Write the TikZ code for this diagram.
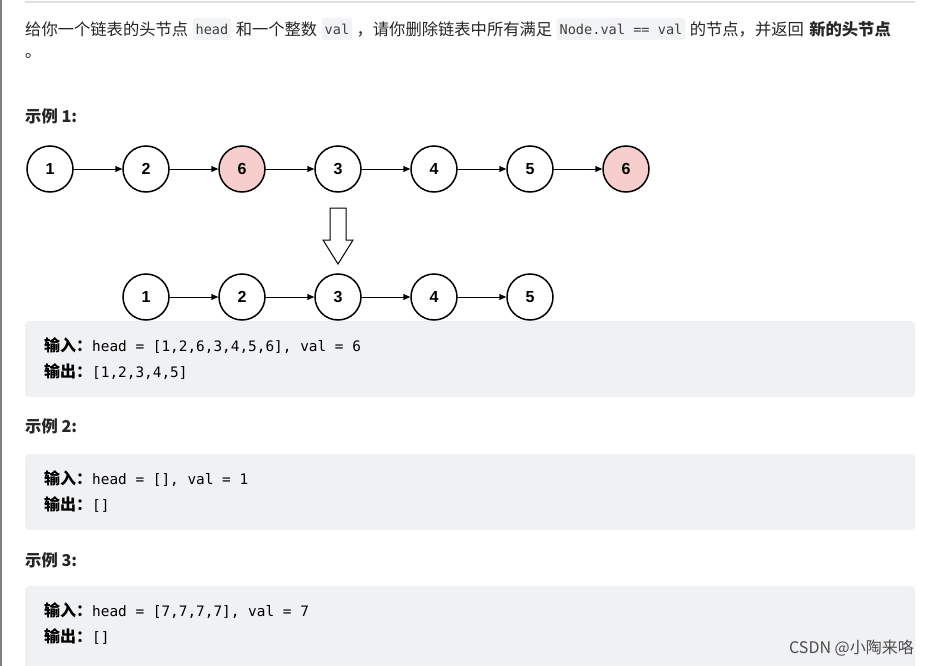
\documentclass[tikz,border=0pt]{standalone}
\usepackage{fontspec}
\setmainfont{Liberation Sans}
\setmonofont{DejaVu Sans Mono}
\newfontfamily\cjk{Noto Sans CJK SC}
\usetikzlibrary{arrows.meta}
\definecolor{codebg}{HTML}{F2F3F5}
\definecolor{boxbg}{HTML}{F0F1F3}
\definecolor{pink}{HTML}{F8CECC}
\definecolor{txt}{HTML}{262626}
\begin{document}
\begin{tikzpicture}[x=1pt,y=-1pt,
  ll/.style={circle,draw,line width=1.5pt,minimum size=46pt,inner sep=0pt,font=\fontsize{16}{16}\selectfont\bfseries},
  arr/.style={-{Triangle[length=7pt,width=6pt]},line width=1pt},
  body/.style={inner sep=0pt,anchor=west,text=txt,font=\fontsize{16.3}{18}\selectfont\cjk},
  ic/.style={inner sep=3pt,anchor=west,fill=codebg,rounded corners=3pt,text=black!75,font=\fontsize{13.6}{14}\selectfont\ttfamily,minimum height=22pt},
  head/.style={inner sep=0pt,anchor=west,text=txt,font=\fontsize{16.3}{18}\selectfont\cjk\bfseries},
  gbox/.style={fill=boxbg,rounded corners=4pt},
  code/.style={inner sep=0pt,anchor=west,text=black,font=\fontsize{14.4}{16}\selectfont\ttfamily}]
\useasboundingbox (0,0) rectangle (929,666);
\fill[white] (0,0) rectangle (929,666);
\draw[gray,line width=1.5pt] (1,0) -- (1,666);
\draw[black!12,line width=1.5pt] (25,2) -- (915,2);
% intro line
\node[body] (t1) at (25,29) {给你一个链表的头节点};
\node[ic] (c1) at ([xshift=4pt]t1.east) {head};
\node[body] (t2) at ([xshift=4pt]c1.east) {和一个整数};
\node[ic] (c2) at ([xshift=4pt]t2.east) {val};
\node[body] (t3) at ([xshift=4pt]c2.east) {，请你删除链表中所有满足};
\node[ic] (c3) at ([xshift=4pt]t3.east) {Node.val == val};
\node[body] (t4) at ([xshift=4pt]c3.east) {的节点，并返回};
\node[head] (t5) at ([xshift=5pt]t4.east) {新的头节点};
\node[body] (t6) at (25,56) {。};
\node[head] (h1) at (25,116) {示例 1:};
% row 1
\foreach \n/\v/\x/\f in {a1/1/50/white,a2/2/146/white,a3/6/242/pink,a4/3/338/white,a5/4/434/white,a6/5/530/white,a7/6/626/pink}
  \node[ll,fill=\f] (\n) at (\x,169) {\v};
\foreach \p/\q in {a1/a2,a2/a3,a3/a4,a4/a5,a5/a6,a6/a7} \draw[arr] (\p) -- (\q);
% hollow arrow
\draw[line width=1pt,fill=white] (330,208) -- (346,208) -- (346,240) -- (353,240) -- (338,264) -- (323,240) -- (330,240) -- cycle;
% row 2
\foreach \n/\v/\x in {b1/1/146,b2/2/242,b3/3/338,b4/4/434,b5/5/530}
  \node[ll,fill=white] (\n) at (\x,297) {\v};
\foreach \p/\q in {b1/b2,b2/b3,b3/b4,b4/b5} \draw[arr] (\p) -- (\q);
% example boxes
\fill[gbox] (25,321) rectangle (915,397);
\node[code] (e1) at (44,346) {{\cjk\bfseries\fontsize{16}{16}\selectfont 输入：}head = [1,2,6,3,4,5,6], val = 6};
\node[code] (e2) at (44,372) {{\cjk\bfseries\fontsize{16}{16}\selectfont 输出：}[1,2,3,4,5]};
\node[head] (h2) at (25,426) {示例 2:};
\fill[gbox] (25,454) rectangle (915,530);
\node[code] (f1) at (44,479) {{\cjk\bfseries\fontsize{16}{16}\selectfont 输入：}head = [], val = 1};
\node[code] (f2) at (44,505) {{\cjk\bfseries\fontsize{16}{16}\selectfont 输出：}[]};
\node[head] (h3) at (25,560) {示例 3:};
\fill[gbox] (25,586) rectangle (915,672);
\node[code] (g1) at (44,611) {{\cjk\bfseries\fontsize{16}{16}\selectfont 输入：}head = [7,7,7,7], val = 7};
\node[code] (g2) at (44,637) {{\cjk\bfseries\fontsize{16}{16}\selectfont 输出：}[]};
\node[inner sep=0pt,anchor=east,text=black!70,font=\fontsize{16}{18}\selectfont\cjk] (wm) at (914,648) {CSDN @小陶来咯};
\end{tikzpicture}
\end{document}
